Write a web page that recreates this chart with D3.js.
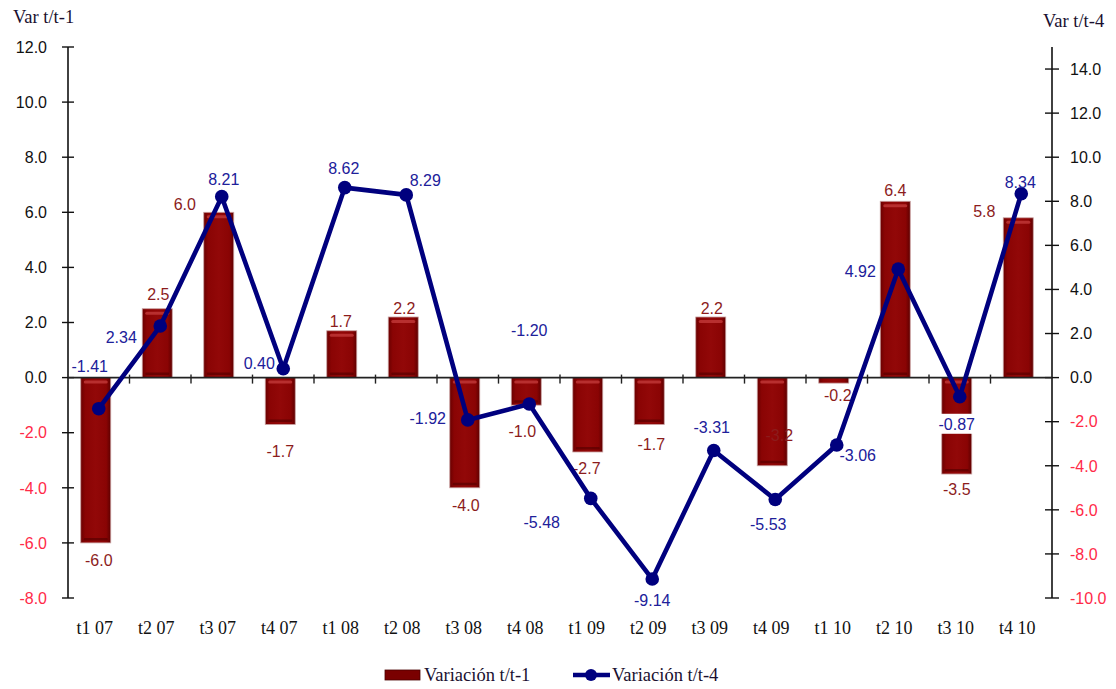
<!DOCTYPE html>
<html><head><meta charset="utf-8">
<script src="https://cdn.jsdelivr.net/npm/d3@7"></script>
<style>body{margin:0;background:#fff}svg{display:block}</style>
</head><body>
<svg id="c" width="1116" height="689"></svg>
<script>
const categories = ["t1 07","t2 07","t3 07","t4 07","t1 08","t2 08","t3 08","t4 08","t1 09","t2 09","t3 09","t4 09","t1 10","t2 10","t3 10","t4 10"];
const varT1 = [-6.0,2.5,6.0,-1.7,1.7,2.2,-4.0,-1.0,-2.7,-1.7,2.2,-3.2,-0.2,6.4,-3.5,5.8];
const varT4 = [-1.41,2.34,8.21,0.40,8.62,8.29,-1.92,-1.20,-5.48,-9.14,-3.31,-5.53,-3.06,4.92,-0.87,8.34];
const leftTicks = [12,10,8,6,4,2,0,-2,-4,-6,-8];
const rightTicks = [14,12,10,8,6,4,2,0,-2,-4,-6,-8,-10];
const seriesNames = ["Variación t/t-1","Variación t/t-4"];
const axisTitles = ["Var t/t-1","Var t/t-4"];

// layout (label offsets from their mark, in px)
const barLabelOff = [[0,17],[-2,-14],[-37,-8],[-3,27],[-4,-10],[-2,-9],[-2,17],[-7,26],[-4,16],[-1,20],[-2,-9],[4,-31],[1,12],[-3,-11],[-3,15],[-37,-7]];
const lineLabelOff = [[-9,-42],[-39,11],[2,-17],[-24,-6],[-1,-19],[19,-15],[-40,-2],[0,-74],[-49,24],[0,21],[-2,-23],[-7,25],[21,10],[-38,2],[-3,27],[-1,-12]];

const SERIF = "'Liberation Serif', 'DejaVu Serif', serif";
const SANS = "'Liberation Sans', Arial, sans-serif";
const L = 68, R = 1052, T = 47, B = 598;
const svg = d3.select("#c");
const x = d3.scaleBand().domain(categories).range([L, R]).paddingInner(0).paddingOuter(0);
const yL = d3.scaleLinear().domain([-8, 12]).range([B, T]);
const yR = d3.scaleLinear().domain([-10, 15]).range([B, T]);
const bw = 30;
const cx = c => x(c) + x.bandwidth() / 2;

const defs = svg.append("defs");
const g1 = defs.append("linearGradient").attr("id","barH").attr("x1",0).attr("x2",1).attr("y1",0).attr("y2",0);
[[0,"#6a0000"],[0.15,"#8a0404"],[0.5,"#920808"],[0.85,"#8a0404"],[1,"#5e0000"]].forEach(s=>g1.append("stop").attr("offset",s[0]).attr("stop-color",s[1]));

const tickColor = v => v < 0 ? "#ff2a48" : "#111";

// left axis
const ax = svg.append("g");
ax.append("line").attr("x1",L).attr("x2",L).attr("y1",T).attr("y2",B).attr("stroke","#111").attr("stroke-width",1.6);
ax.selectAll(".lt").data(leftTicks).join("line").attr("x1",L-6).attr("x2",L+6).attr("y1",d=>yL(d)).attr("y2",d=>yL(d)).attr("stroke","#111").attr("stroke-width",1.4);
ax.selectAll(".ll").data(leftTicks).join("text").attr("x",L-21).attr("y",d=>yL(d)).attr("dy","0.36em")
  .attr("text-anchor","end").attr("font-family",SANS).attr("font-size",16)
  .attr("fill",tickColor).text(d=>d.toFixed(1));
// right axis
ax.append("line").attr("x1",R).attr("x2",R).attr("y1",T).attr("y2",B).attr("stroke","#111").attr("stroke-width",1.6);
ax.selectAll(".rt").data(rightTicks).join("line").attr("x1",R-7).attr("x2",R+7).attr("y1",d=>yR(d)).attr("y2",d=>yR(d)).attr("stroke","#111").attr("stroke-width",1.4);
ax.selectAll(".rl").data(rightTicks).join("text").attr("x",R+18).attr("y",d=>yR(d)).attr("dy","0.36em")
  .attr("text-anchor","start").attr("font-family",SANS).attr("font-size",16)
  .attr("fill",tickColor).text(d=>d.toFixed(1));

// axis titles
svg.append("text").attr("x",13).attr("y",23).attr("font-family",SERIF).attr("font-size",18.5).attr("fill","#1a1030").text(axisTitles[0]);
svg.append("text").attr("x",1043).attr("y",27).attr("font-family",SERIF).attr("font-size",18.5).attr("fill","#1a1030").text(axisTitles[1]);

// bars
const bars = svg.append("g");
categories.forEach((c,i)=>{
  const v = varT1[i];
  const y0 = yL(0), y1 = yL(v);
  const top = Math.min(y0,y1), h = Math.abs(y1-y0);
  const bx = cx(c) - 3 - bw/2;
  bars.append("rect").attr("x",bx).attr("y",top).attr("width",bw).attr("height",h)
    .attr("fill","url(#barH)").attr("stroke","#c9a0a0").attr("stroke-width",0.8);
  if (h > 8) {
    bars.append("rect").attr("x",bx+3).attr("y",top+3).attr("width",bw-6).attr("height",3)
      .attr("fill","#c23a3a").attr("opacity",0.8).attr("rx",1.5);
    bars.append("rect").attr("x",bx+3).attr("y",top+h-5).attr("width",bw-6).attr("height",2.5)
      .attr("fill","#5a0000").attr("opacity",0.7).attr("rx",1);
  }
});

// x axis at zero
const x0 = yL(0);
svg.append("line").attr("x1",L).attr("x2",R).attr("y1",x0).attr("y2",x0).attr("stroke","#222").attr("stroke-width",1.6);
svg.selectAll(".xt").data(categories.slice(1)).join("line").attr("x1",d=>x(d)).attr("x2",d=>x(d))
  .attr("y1",x0-3).attr("y2",x0+6).attr("stroke","#222").attr("stroke-width",1.4);
svg.selectAll(".xl").data(categories).join("text").attr("x",d=>cx(d)-4).attr("y",634)
  .attr("text-anchor","middle").attr("font-family",SERIF).attr("font-size",18)
  .attr("fill","#111").text(d=>d);

// bar labels
svg.selectAll(".bl").data(varT1).join("text")
  .attr("x",(d,i)=>cx(categories[i])+barLabelOff[i][0]).attr("y",(d,i)=>yL(d)+barLabelOff[i][1])
  .attr("dy","0.36em").attr("text-anchor","middle").attr("font-family",SANS)
  .attr("font-size",16).attr("fill","#8c1c1c").text(d=>d.toFixed(1));

// line
const line = d3.line().x((d,i)=>cx(categories[i])).y(d=>yR(d));
svg.append("path").datum(varT4).attr("d",line).attr("fill","none").attr("stroke","#00007e").attr("stroke-width",4.6).attr("stroke-linejoin","round");
svg.selectAll(".pt").data(varT4).join("circle").attr("cx",(d,i)=>cx(categories[i])).attr("cy",d=>yR(d)).attr("r",6.8).attr("fill","#00007e");

// line labels
const ll = svg.selectAll(".lbl").data(varT4).join("g")
  .attr("transform",(d,i)=>`translate(${cx(categories[i])+lineLabelOff[i][0]},${yR(d)+lineLabelOff[i][1]})`);
ll.each(function(d,i){
  const g = d3.select(this);
  if (i === 14) g.append("rect").attr("x",-22).attr("y",-10).attr("width",44).attr("height",20).attr("fill","#fff");
  g.append("text").attr("dy","0.36em").attr("text-anchor","middle").attr("font-family",SANS)
   .attr("font-size",16).attr("fill","#20209a").text(d.toFixed(2));
});

// legend
const lg = svg.append("g");
lg.append("rect").attr("x",385).attr("y",670).attr("width",35).attr("height",10).attr("fill","#7a0000").attr("stroke","#4a0000").attr("stroke-width",0.8);
lg.append("text").attr("x",424).attr("y",681).attr("font-family",SERIF).attr("font-size",18.5).attr("fill","#1a1030").text(seriesNames[0]);
lg.append("line").attr("x1",573).attr("x2",610).attr("y1",675).attr("y2",675).attr("stroke","#00007e").attr("stroke-width",4.6);
lg.append("circle").attr("cx",591).attr("cy",675).attr("r",6).attr("fill","#00007e");
lg.append("text").attr("x",612).attr("y",681).attr("font-family",SERIF).attr("font-size",18.5).attr("fill","#1a1030").text(seriesNames[1]);
</script>
</body></html>
